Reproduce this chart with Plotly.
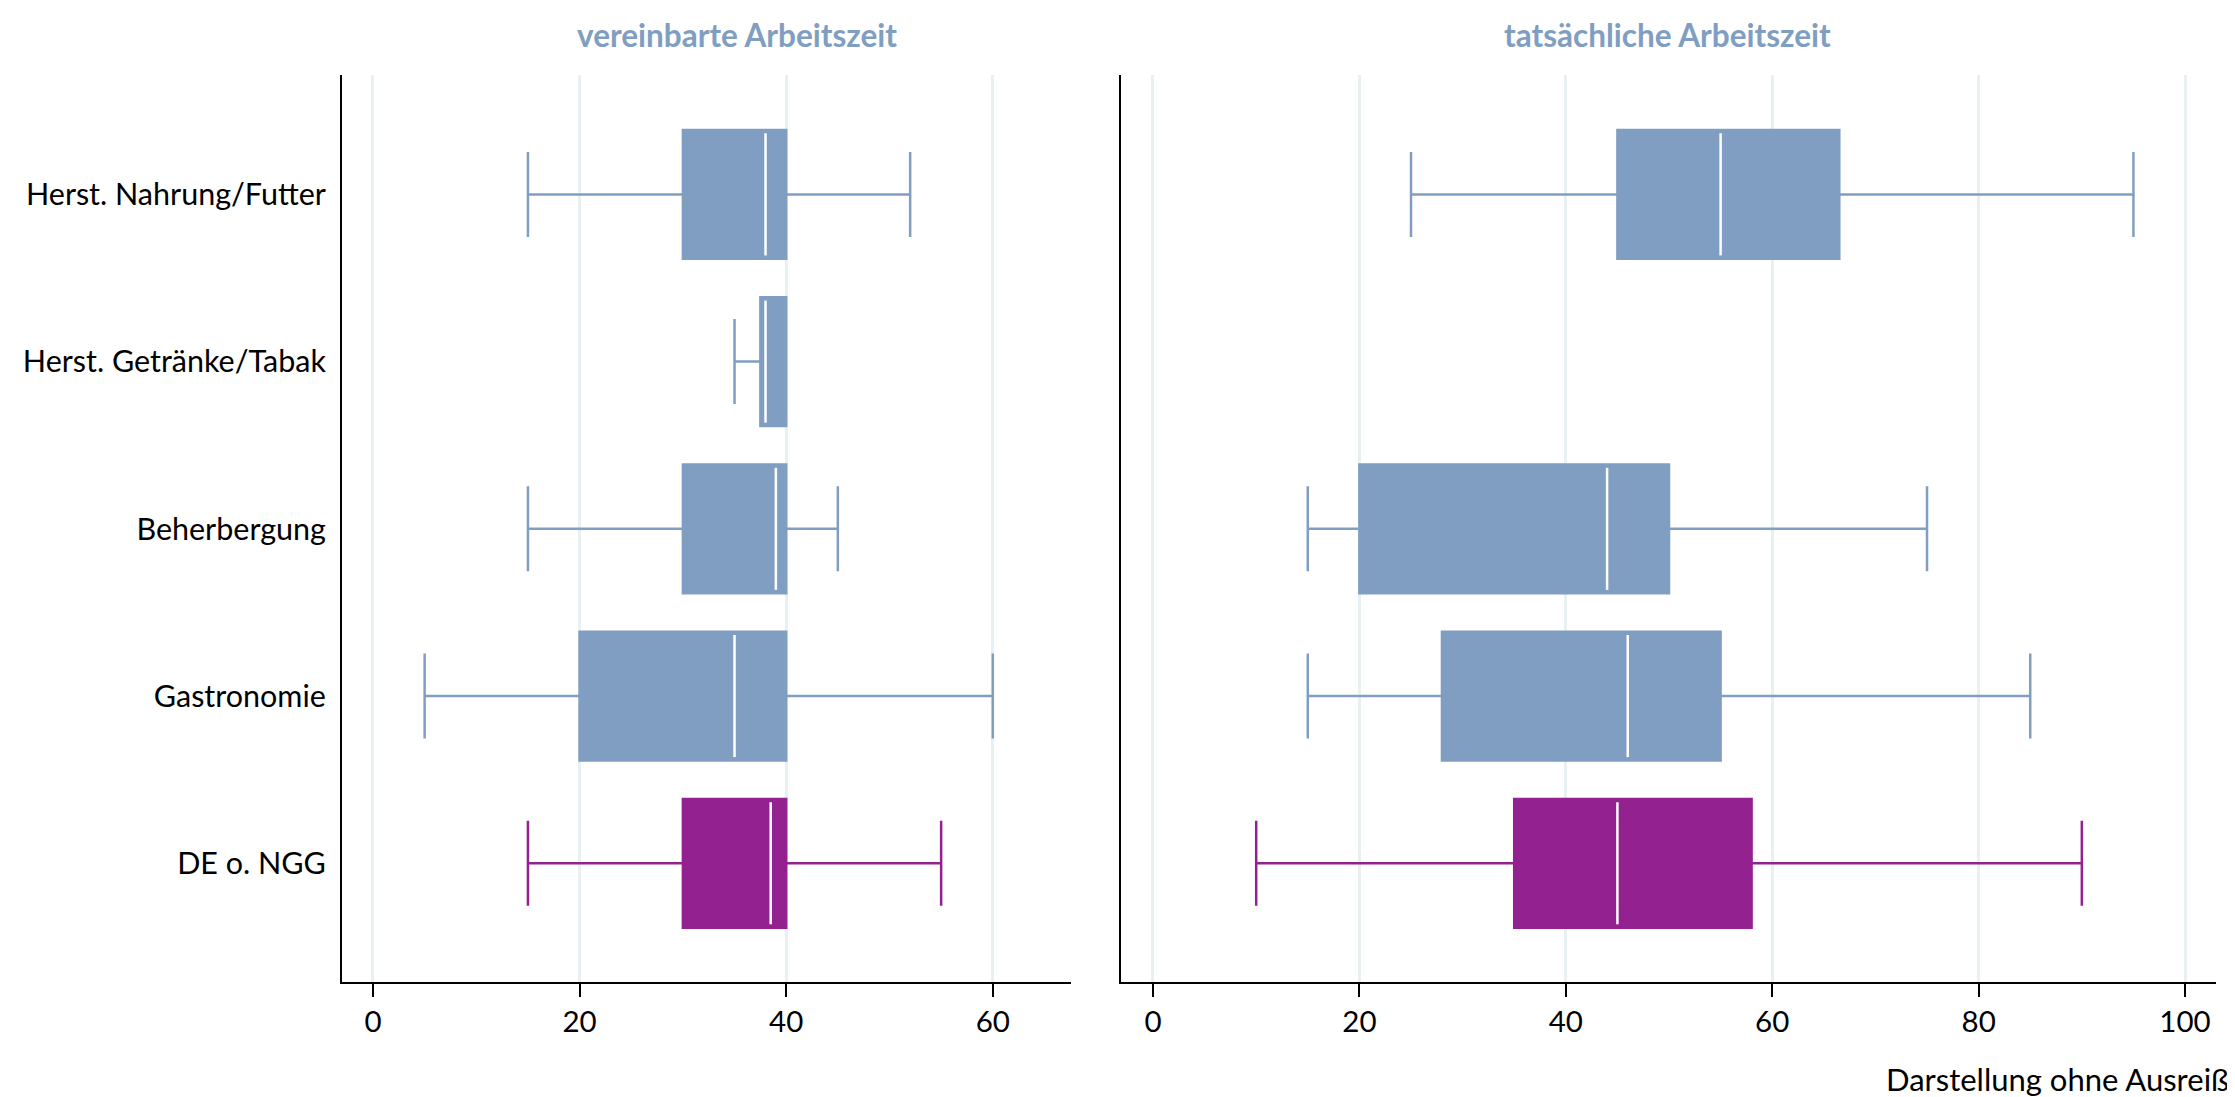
import plotly.graph_objects as go

categories = ["Herst. Nahrung/Futter", "Herst. Getränke/Tabak", "Beherbergung", "Gastronomie", "DE o. NGG"]

# vereinbarte Arbeitszeit
v_low = [15, 35, 15, 5, 15]
v_q1 = [30, 37.5, 30, 20, 30]
v_med = [38, 38, 39, 35, 38.5]
v_q3 = [40, 40, 40, 40, 40]
v_high = [52, 40, 45, 60, 55]

# tatsächliche Arbeitszeit (no box for Getränke/Tabak)
t_low = [25, None, 15, 15, 10]
t_q1 = [45, None, 20, 28, 35]
t_med = [55, None, 44, 46, 45]
t_q3 = [66.5, None, 50, 55, 58]
t_high = [95, None, 75, 85, 90]

BLUE = "#809ec1"
PURPLE = "#93218f"
colors = [BLUE, BLUE, BLUE, BLUE, PURPLE]
FONT = "Lato, 'Open Sans', sans-serif"

W, H = 2235, 1097
L, R, T, B = 334, 27, 67, 123
PW, PH = W - L - R, H - T - B

fig = go.Figure()

BOXW = 0.77

def add_panel(low, q1, med, q3, high, xa, ya):
    for i, cat in enumerate(categories):
        if med[i] is None:
            continue
        fig.add_trace(go.Box(
            orientation="h", y=[i], q1=[q1[i]], median=[med[i]], q3=[q3[i]],
            lowerfence=[low[i]], upperfence=[high[i]],
            fillcolor=colors[i], line=dict(color=colors[i], width=2.5),
            width=BOXW, whiskerwidth=0.66, boxpoints=False,
            xaxis=xa, yaxis=ya, showlegend=False, hoverinfo="skip"))
        fig.add_trace(go.Scatter(
            x=[med[i], med[i]], y=[i - BOXW / 2 + 0.02, i + BOXW / 2 - 0.02],
            mode="lines", line=dict(color="white", width=2.5),
            xaxis=xa, yaxis=ya, showlegend=False, hoverinfo="skip"))

add_panel(v_low, v_q1, v_med, v_q3, v_high, "x", "y")
add_panel(t_low, t_q1, t_med, t_q3, t_high, "x2", "y2")

GRID = "#e8f0f1"
xcommon = dict(showgrid=True, gridcolor=GRID, gridwidth=2.5, zeroline=False,
               showline=True, linecolor="black", linewidth=2,
               ticks="outside", ticklen=13, tickwidth=2, tickcolor="black",
               tickfont=dict(family=FONT, size=29.5, color="black"))
ycommon = dict(range=[4.71, -0.714], tickvals=list(range(len(categories))),
               showgrid=False, zeroline=False, showline=True, linecolor="black",
               linewidth=2, ticks="")

def px_x(p):
    return (p - L) / PW

def px_y(p):
    return (H - B - p) / PH

fig.update_layout(
    width=W, height=H,
    margin=dict(l=L, r=R, t=T, b=B),
    plot_bgcolor="white", paper_bgcolor="white",
    xaxis=dict(domain=[0, px_x(1063.3)], range=[-3, 67.6], tickvals=[0, 20, 40, 60], anchor="y", **xcommon),
    xaxis2=dict(domain=[px_x(1113.3), 1], range=[-3.07, 103], tickvals=[0, 20, 40, 60, 80, 100], anchor="y2", **xcommon),
    yaxis=dict(anchor="x", ticktext=categories, ticklabelstandoff=8,
               tickfont=dict(family=FONT, size=30.5, color="black"), **ycommon),
    yaxis2=dict(anchor="x2", showticklabels=False, **ycommon),
    annotations=[
        dict(text="<b>vereinbarte Arbeitszeit</b>", x=px_x(729), y=px_y(27),
             xref="paper", yref="paper", xanchor="center", yanchor="middle", showarrow=False,
             font=dict(family=FONT, size=31.5, color="#809ec1")),
        dict(text="<b>tatsächliche Arbeitszeit</b>", x=px_x(1659), y=px_y(27),
             xref="paper", yref="paper", xanchor="center", yanchor="middle", showarrow=False,
             font=dict(family=FONT, size=31.5, color="#809ec1")),
        dict(text="Darstellung ohne Ausreißer", x=px_x(1876), y=px_y(1071),
             xref="paper", yref="paper", xanchor="left", yanchor="middle", showarrow=False,
             font=dict(family=FONT, size=31, color="black")),
    ],
)

fig.write_html("out.html")
